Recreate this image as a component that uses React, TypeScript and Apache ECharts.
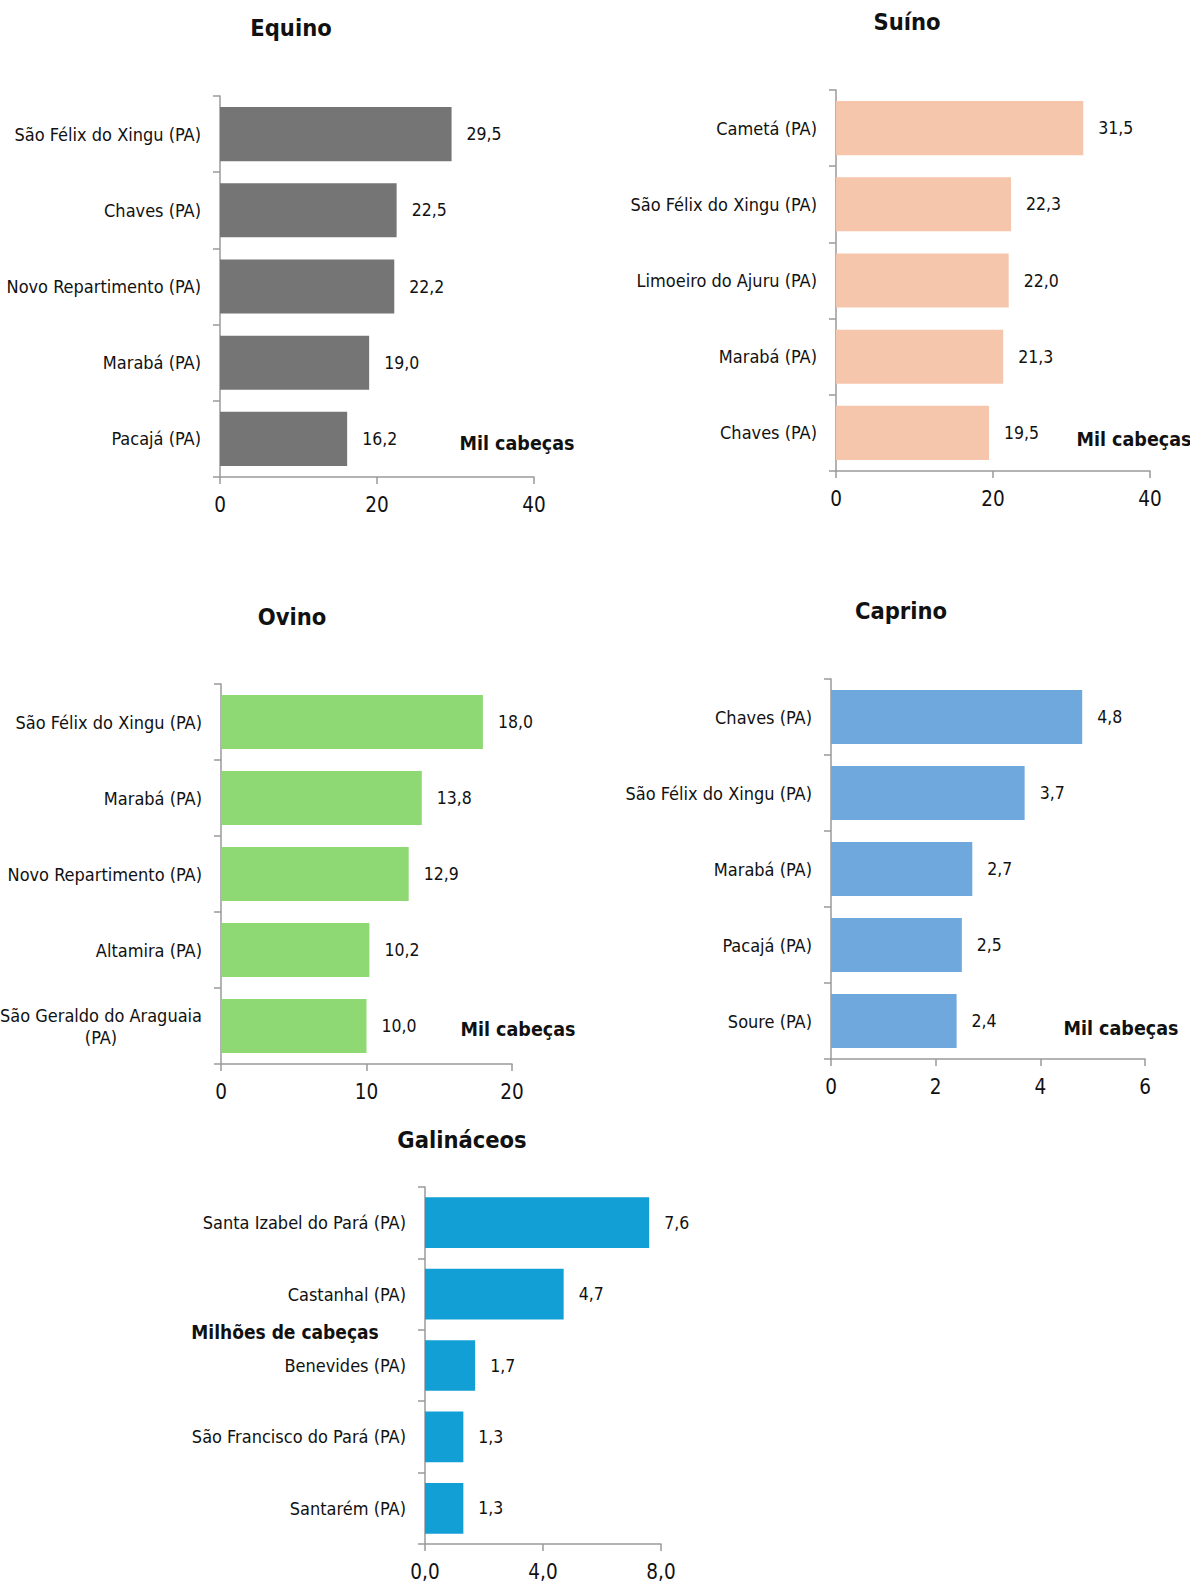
import React, { useEffect, useRef } from "react";
import * as echarts from "echarts";

const FONT = "'DejaVu Sans Condensed', 'Liberation Sans Narrow', sans-serif";

const equinoCats = ["São Félix do Xingu (PA)", "Chaves (PA)", "Novo Repartimento (PA)", "Marabá (PA)", "Pacajá (PA)"];
const equinoVals = [29.5, 22.5, 22.2, 19.0, 16.2];

const suinoCats = ["Cametá (PA)", "São Félix do Xingu (PA)", "Limoeiro do Ajuru (PA)", "Marabá (PA)", "Chaves (PA)"];
const suinoVals = [31.5, 22.3, 22.0, 21.3, 19.5];

const ovinoCats = ["São Félix do Xingu (PA)", "Marabá (PA)", "Novo Repartimento (PA)", "Altamira (PA)", "São Geraldo do Araguaia\n(PA)"];
const ovinoVals = [18.0, 13.8, 12.9, 10.2, 10.0];

const caprinoCats = ["Chaves (PA)", "São Félix do Xingu (PA)", "Marabá (PA)", "Pacajá (PA)", "Soure (PA)"];
const caprinoVals = [4.8, 3.7, 2.7, 2.5, 2.4];

const galinCats = ["Santa Izabel do Pará (PA)", "Castanhal (PA)", "Benevides (PA)", "São Francisco do Pará (PA)", "Santarém (PA)"];
const galinVals = [7.6, 4.7, 1.7, 1.3, 1.3];

const panels = [
  { title: "Equino", cats: equinoCats, vals: equinoVals, color: "#757575", max: 40, interval: 20, dec: 0,
    grid: { left: 220, top: 96, width: 314, height: 381 }, titlePos: [286, 11], unit: "Mil cabeças", unitPos: [517, 443] },
  { title: "Suíno", cats: suinoCats, vals: suinoVals, color: "#F6C6AC", max: 40, interval: 20, dec: 0,
    grid: { left: 836, top: 90, width: 314, height: 381 }, titlePos: [902, 4.5], unit: "Mil cabeças", unitPos: [1134, 439] },
  { title: "Ovino", cats: ovinoCats, vals: ovinoVals, color: "#8FD974", max: 20, interval: 10, dec: 0,
    grid: { left: 221, top: 684, width: 291, height: 380 }, titlePos: [287, 599.5], unit: "Mil cabeças", unitPos: [518, 1029] },
  { title: "Caprino", cats: caprinoCats, vals: caprinoVals, color: "#6FA8DC", max: 6, interval: 2, dec: 0,
    grid: { left: 831, top: 679, width: 314, height: 380 }, titlePos: [896, 593.5], unit: "Mil cabeças", unitPos: [1121, 1028] },
  { title: "Galináceos", cats: galinCats, vals: galinVals, color: "#129FD6", max: 8, interval: 4, dec: 1,
    grid: { left: 425, top: 1187, width: 236, height: 357 }, titlePos: [457, 1122.5], unit: "Milhões de cabeças", unitPos: [285, 1332] },
];

const fmt = (v: number, d: number) => v.toFixed(d).replace(".", ",");

export default function App() {
  const ref = useRef<HTMLDivElement>(null);
  useEffect(() => {
    if (!ref.current) return;
    const chart = echarts.init(ref.current, undefined, { renderer: "svg" });
    const axisColor = "#9a9a9a";
    const option: any = {
      animation: false,
      backgroundColor: "#ffffff",
      textStyle: { fontFamily: FONT },
      title: panels.map((p) => ({
        text: p.title,
        left: p.titlePos[0],
        top: p.titlePos[1],
        textAlign: "center",
        textStyle: { fontFamily: FONT, fontSize: 23.5, fontWeight: "bold", color: "#111" },
      })),
      grid: panels.map((p) => ({ ...p.grid, containLabel: false, outerBoundsMode: "none" })),
      xAxis: panels.map((p, i) => ({
        type: "value",
        gridIndex: i,
        min: 0,
        max: p.max,
        interval: p.interval,
        splitLine: { show: false },
        axisLine: { show: true, lineStyle: { color: axisColor, width: 1.5 } },
        axisTick: { show: true, length: 7, lineStyle: { color: axisColor, width: 1.5 } },
        axisLabel: {
          margin: 17,
          fontFamily: FONT,
          fontSize: 20.5,
          color: "#111",
          formatter: (v: number) => fmt(v, p.dec),
        },
      })),
      yAxis: panels.map((p, i) => ({
        type: "category",
        gridIndex: i,
        data: p.cats,
        inverse: true,
        axisLine: { show: true, lineStyle: { color: axisColor, width: 1.5 } },
        axisTick: { show: true, length: 7, lineStyle: { color: axisColor, width: 1.5 } },
        axisLabel: {
          margin: 19,
          fontFamily: FONT,
          fontSize: 18,
          color: "#111",
          formatter: (v: string) => v.split("\n").map((s) => "{c|" + s + "}").join("\n"),
          rich: { c: { align: "center", fontFamily: FONT, fontSize: 18, color: "#111", lineHeight: 22 } },
        },
      })),
      series: panels.map((p, i) => ({
        type: "bar",
        xAxisIndex: i,
        yAxisIndex: i,
        data: p.vals,
        barCategoryGap: "29%",
        itemStyle: { color: p.color },
        label: {
          show: true,
          position: "right",
          distance: 15,
          fontFamily: FONT,
          fontSize: 17.5,
          color: "#111",
          formatter: (d: any) => fmt(d.value, 1),
        },
      })),
      graphic: panels.map((p) => ({
        type: "text",
        x: p.unitPos[0],
        y: p.unitPos[1],
        style: {
          text: p.unit,
          fontFamily: FONT,
          fontSize: p.unit.length > 12 ? 19 : 19.5,
          fontWeight: "bold",
          fill: "#111",
          textAlign: "center",
          textVerticalAlign: "middle",
        },
      })),
    };
    chart.setOption(option);
    return () => chart.dispose();
  }, []);
  return (
    <div
      ref={ref}
      style={{ position: "fixed", left: 0, top: 0, width: 1190, height: 1584, background: "#fff" }}
    />
  );
}
